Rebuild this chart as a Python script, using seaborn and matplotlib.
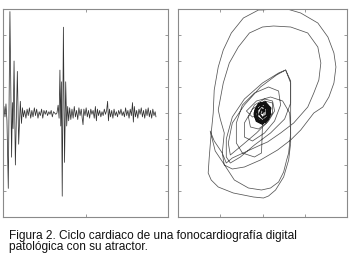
import numpy as np
import pandas as pd
import seaborn as sns
import matplotlib.pyplot as plt

# ------------------------------- data ------------------------------- #
# phonocardiogram: time (ms) and amplitude (a.u.)
pcg_time = [0, 6, 12, 18, 24, 32, 42, 52, 57, 61, 67, 75, 87, 95, 105, 112, 118,
            124, 131, 139, 146, 153, 160, 168, 175, 182, 190, 197, 204, 212, 219,
            226, 234, 241, 248, 256, 263, 270, 278, 285, 292, 299, 306, 313, 320,
            327, 334, 340,
            345, 350, 354, 359, 366, 373, 380, 386, 392, 398,
            404, 411, 418, 425, 432, 439, 446, 453, 460, 467, 474, 480, 485, 490,
            497, 504, 511, 518, 525, 532, 539, 546, 553, 560, 566, 572, 579, 586,
            593, 600, 607, 614, 621, 628, 634, 639, 645, 652, 659, 666, 673, 680,
            687, 694, 701, 708, 715, 722, 729, 736, 743, 750, 757, 764, 771, 778,
            785, 790, 796, 803, 810, 817, 824, 831, 838, 845, 852, 859, 866, 873,
            880, 887, 894, 901, 908, 915, 922, 927]
pcg_amp = [0.0, 0.25, -0.15, 0.35, -0.3, -2.9, 3.9, -1.7, 0.4, -0.6, 2.0, -2.0, 1.6, -1.2, 0.45, -0.4, 0.2,
           -0.15, 0.1, -0.2, 0.15, -0.1, 0.2, -0.2, 0.1, -0.15, 0.2, -0.1, 0.15, -0.2, 0.05,
           -0.1, 0.15, -0.2, 0.1, -0.05, 0.1, -0.1, 0.05, -0.05, 0.1, -0.15, 0.05, 0.0, -0.05,
           0.0, 0.3, -0.2,
           1.65, -0.5, 1.2, -3.2, 3.3, -1.9, 1.2, -0.5, 0.25, -0.3,
           0.2, -0.25, 0.15, -0.2, 0.25, -0.15, 0.1, -0.25, 0.2, -0.1, 0.15, -0.2, -0.45, 0.15,
           -0.1, 0.2, -0.15, 0.1, -0.2, 0.15, -0.05, 0.1, -0.2, 0.25, -0.3, 0.15, -0.1, 0.1,
           -0.15, 0.05, -0.1, 0.15, -0.05, 0.1, 0.45, -0.3, 0.15, -0.15, 0.1, -0.2, 0.15, -0.1,
           0.05, -0.15, 0.1, -0.05, 0.15, -0.1, 0.05, -0.15, 0.2, -0.1, 0.1, -0.2, 0.15, -0.1,
           0.4, -0.35, 0.25, -0.15, 0.1, -0.2, 0.15, -0.05, 0.2, -0.15, 0.1, -0.2, 0.15, -0.1,
           0.2, -0.15, 0.1, -0.2, 0.15, -0.1, 0.05, -0.15]

# attractor trajectory (phase plane)
att_x = [0, 4, 8, 6, 0, -6, -8, -4, 3, 7, 5, -1, -7, -7, -2, 5, 8, 3, -4, -8, -5, 1, 6, 5, 0, -5, -5, -1, 4, 4, 0, -3, -1, 2,
         0, -1, -8, -20, -26, -26, -20, -8, 6, 16, 18, 12, 2, -10, -18, -18, -10, 2, 10, 10,
         4, -4, -12, -14, -8, 2, 10, 12, 6,
         -6, -20, -32, -34, -30, -18, -2, 14, 23, 28, 28, 22, 8, -8, -22, -32, -36, -36, -30, -18, 0, 16, 23,
         28, 28, 28, 26, 21, 13, 6, 1, -9, -29, -44, -51, -54, -53, -51, -49, -48, -44, -39, -31, -19, -4,
         0, 21, 38, 55, 65, 71, 73, 71, 66, 60, 51, 38, 28, 15, -2, -18, -30, -38, -40, -38,
         -42, -44, -39, -33, -24, -13, 0, 11, 28, 45, 55, 58, 56, 51, 45, 38, 31, 18, 5, -2, -17, -30, -36,
         -40, -48, -52, -47, -39, -28, -14, -1, 8, 16, 21, 24, 26, 28, 27, 20, 8, -6, -16, -10, 0]
att_y = [0, 9, 5, -5, -11, -8, 0, 9, 11, 3, -7, -10, -5, 4, 10, 8, -1, -9, -8, -2, 7, 9, 4, -4, -8, -4, 3, 7, 5, -2, -5, -1, 4, 2,
         -12, -40, -44, -40, -30, -10, 8, 20, 26, 22, 8, -8, -20, -28, -24, -10, 4, 12, 10, 0,
         -10, -16, -14, -4, 8, 14, 12, 2, -8,
         -20, -32, -42, -30, -10, 8, 26, 38, 43, 32, 10, -6, -20, -32, -44, -50, -44, -26, -4, 14, 30, 40, 43,
         30, 0, -30, -47, -64, -77, -83, -85, -84, -80, -74, -67, -60, -45, -20, 0, 23, 46, 63, 80, 95, 103,
         103, 105, 100, 90, 76, 60, 46, 30, 16, 6, 0, -17, -27, -37, -47, -54, -56, -52, -40, -20,
         -6, 3, 30, 50, 66, 80, 86, 87, 86, 80, 66, 50, 33, 20, 6, -2, -10, -20, -29, -32, -39, -45, -50,
         -40, -28, -18, -38, -50, -67, -75, -77, -75, -69, -59, -47, -40, -20, 0, 12, 16, 12, 2, -4, 0]
n_core = 34  # the first samples form the dense central knot

caption = "Figura 2. Ciclo cardiaco de una fonocardiografía digital\npatológica con su atractor."

# ------------------------------ style ------------------------------ #
sns.set_style("white")
plt.rcParams['font.family'] = ['Liberation Sans', 'DejaVu Sans']
frame_color = "#8a8a8a"

pcg = pd.DataFrame({"t": pcg_time, "amp": pcg_amp})
att = pd.DataFrame({"x": att_x, "y": att_y})

fig = plt.figure(figsize=(3.5, 2.65), dpi=100)
ax1 = fig.add_axes([3 / 350, 1 - 217 / 265, 165 / 350, 208 / 265])
ax2 = fig.add_axes([178 / 350, 1 - 217 / 265, 169 / 350, 208 / 265])

sns.lineplot(data=pcg, x="t", y="amp", ax=ax1, color="#333333", lw=0.55,
             estimator=None, sort=False)
sns.lineplot(data=att, x="x", y="y", ax=ax2, color="#555555", lw=0.55,
             estimator=None, sort=False)
sns.lineplot(data=att.iloc[:n_core], x="x", y="y", ax=ax2, color="#111111", lw=1.3,
             estimator=None, sort=False)

ax1.set(xlim=(0, 1000), ylim=(-4, 4), xlabel='', ylabel='')
ax1.set_xticks([0, 500, 1000])
ax1.set_yticks(np.arange(-4, 5, 1))
ax2.set(xlim=(-84, 84), ylim=(-104, 104), xlabel='', ylabel='')
ax2.set_xticks([-84, -42, 0, 42, 84])
ax2.set_yticks(np.arange(-104, 105, 26))

for ax in (ax1, ax2):
    for sp in ax.spines.values():
        sp.set_visible(True)
        sp.set_color(frame_color)
        sp.set_linewidth(0.8)
    ax.tick_params(direction='in', length=2, width=0.6, color=frame_color,
                   top=True, right=True, bottom=True, left=True,
                   labelbottom=False, labelleft=False)

# caption below both panels
fig.text(9 / 350, 1 - 229.5 / 265, caption, fontsize=8.6, color="#111111",
         va='top', ha='left', linespacing=0.92)

plt.savefig("out.png", dpi=100)
